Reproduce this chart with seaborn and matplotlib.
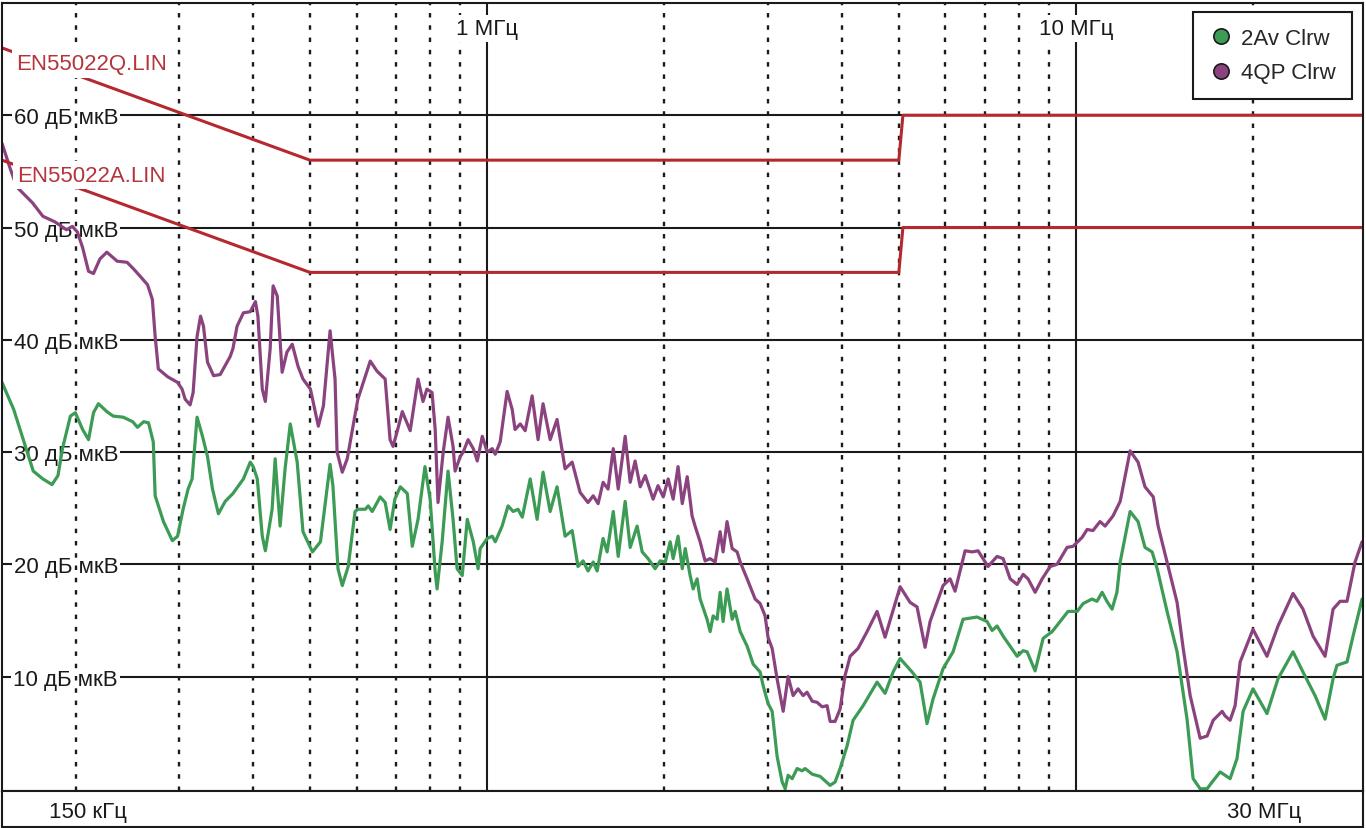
import matplotlib
matplotlib.use("Agg")
import matplotlib.pyplot as plt
import matplotlib.transforms as mtransforms
from matplotlib.lines import Line2D
import numpy as np
import pandas as pd
import seaborn as sns

# ---------------- data ----------------
qp_freq = [0.150, 0.155, 0.159, 0.169, 0.176, 0.1845, 0.193, 0.1975, 0.2014, 0.2056,
           0.2104, 0.2145, 0.220, 0.226, 0.2353, 0.2446, 0.251, 0.258, 0.265, 0.270,
           0.273, 0.2764, 0.2867, 0.298, 0.3033, 0.307, 0.313, 0.3167, 0.3216, 0.326,
           0.3298, 0.335, 0.343, 0.352, 0.366, 0.370, 0.376, 0.3855, 0.396, 0.404,
           0.408, 0.415, 0.420, 0.428, 0.433, 0.440, 0.4485, 0.457, 0.4666, 0.4775,
           0.4866, 0.501, 0.5167, 0.527, 0.541, 0.5516, 0.556, 0.5674, 0.5785, 0.603,
           0.633, 0.650, 0.671, 0.684, 0.692, 0.703, 0.7175, 0.740, 0.763, 0.778,
           0.790, 0.806, 0.816, 0.825, 0.842, 0.858, 0.875, 0.882, 0.900, 0.9105,
           0.928, 0.947, 0.962, 0.981, 1.000, 1.020, 1.032, 1.052, 1.081, 1.1025,
           1.115, 1.138, 1.160, 1.192, 1.220, 1.244, 1.279, 1.314, 1.356, 1.394,
           1.438, 1.483, 1.5135, 1.543, 1.573, 1.604, 1.637, 1.669, 1.715, 1.749,
           1.783, 1.819, 1.855, 1.913, 1.950, 1.990, 2.029, 2.069, 2.109, 2.144,
           2.186, 2.228, 2.254, 2.299, 2.344, 2.391, 2.438, 2.486, 2.515, 2.554,
           2.606, 2.657, 2.689, 2.763, 2.851, 2.907, 2.964, 2.998, 3.047, 3.106,
           3.144, 3.181, 3.243, 3.307, 3.372, 3.439, 3.492, 3.563, 3.632, 3.705,
           3.777, 3.822, 3.897, 3.974, 4.052, 4.133, 4.263, 4.416, 4.592, 4.738,
           5.025, 5.225, 5.369, 5.540, 5.650, 5.944, 6.109, 6.229, 6.478, 6.659,
           6.815, 7.086, 7.341, 7.517, 7.727, 7.940, 8.129, 8.287, 8.519, 8.756,
           9.035, 9.283, 9.652, 9.882, 10.24, 10.44, 10.68, 10.98, 11.20, 11.55,
           11.88, 12.35, 12.74, 13.09, 13.52, 13.78, 14.27, 14.84, 15.20, 15.62,
           16.24, 16.69, 17.09, 17.70, 17.90, 18.26, 18.62, 18.99, 19.97, 21.09,
           22.02, 23.35, 24.28, 25.25, 26.47, 27.31, 28.07, 28.84, 29.76, 30.59]
qp_level = [57.5, 55.2, 53.6, 52.2, 51.0, 50.5, 49.8, 50.1, 49.6, 48.2,
            46.1, 45.9, 47.2, 47.8, 47.0, 46.9, 46.3, 45.6, 44.9, 43.6,
            40.3, 37.4, 36.7, 36.2, 35.6, 34.7, 34.2, 35.3, 40.3, 42.1,
            41.2, 38.0, 36.8, 36.9, 38.5, 39.2, 41.2, 42.4, 42.5, 43.4,
            42.1, 35.6, 34.5, 39.2, 44.8, 43.9, 37.1, 38.9, 39.6, 37.6,
            36.5, 35.6, 32.3, 34.1, 40.8, 36.5, 30.0, 28.2, 29.4, 34.7,
            38.1, 37.2, 36.5, 31.1, 30.5, 31.8, 33.6, 31.9, 36.5, 34.5,
            35.6, 35.3, 32.0, 25.5, 30.0, 33.1, 30.5, 28.3, 29.6, 30.0,
            31.1, 30.3, 29.2, 31.4, 30.0, 30.3, 29.8, 30.9, 35.4, 33.8,
            32.0, 32.5, 31.9, 35.0, 31.1, 34.3, 31.1, 32.9, 28.5, 29.1,
            26.4, 25.5, 26.1, 25.4, 27.3, 26.7, 30.3, 26.7, 31.4, 27.3,
            29.2, 26.9, 27.9, 25.8, 27.0, 26.0, 27.6, 25.8, 28.7, 25.4,
            27.8, 24.3, 23.4, 22.0, 20.3, 20.5, 20.2, 22.9, 21.1, 23.8,
            21.4, 21.1, 20.2, 18.7, 16.9, 16.5, 15.4, 13.5, 12.5, 9.8,
            8.3, 6.9, 10.0, 8.3, 8.9, 8.3, 8.6, 7.8, 7.7, 7.3,
            7.4, 6.0, 6.0, 7.1, 10.1, 11.8, 12.5, 14.0, 15.8, 13.5,
            18.0, 16.6, 16.2, 12.6, 14.9, 18.1, 18.7, 17.6, 21.2, 21.1,
            21.2, 19.8, 20.7, 20.5, 18.7, 18.2, 19.1, 18.7, 17.5, 18.7,
            19.8, 20.0, 21.5, 21.6, 22.4, 23.1, 23.0, 23.8, 23.4, 24.3,
            25.6, 30.1, 29.1, 26.9, 26.0, 23.4, 20.2, 16.6, 12.5, 8.3,
            4.5, 4.7, 6.1, 6.9, 6.5, 6.1, 7.4, 11.3, 14.2, 11.8,
            14.5, 17.4, 16.0, 13.6, 11.8, 16.0, 16.7, 16.7, 20.2, 22.0]

av_freq = [0.150, 0.157, 0.163, 0.1695, 0.176, 0.1824, 0.1867, 0.190, 0.196, 0.1998,
           0.2056, 0.2104, 0.2145, 0.2187, 0.226, 0.2317, 0.241, 0.250, 0.2548, 0.261,
           0.266, 0.271, 0.273, 0.282, 0.292, 0.298, 0.3045, 0.3105, 0.3154, 0.3216,
           0.3285, 0.335, 0.3416, 0.3496, 0.359, 0.370, 0.3855, 0.396, 0.4006, 0.407,
           0.415, 0.420, 0.4313, 0.4364, 0.445, 0.4537, 0.463, 0.4757, 0.4866, 0.505,
           0.521, 0.541, 0.547, 0.558, 0.5674, 0.5807, 0.5965, 0.603, 0.621, 0.628,
           0.638, 0.658, 0.671, 0.684, 0.697, 0.712, 0.7316, 0.746, 0.763, 0.784,
           0.800, 0.816, 0.822, 0.8385, 0.858, 0.875, 0.889, 0.907, 0.925, 0.947,
           0.965, 0.973, 1.000, 1.020, 1.032, 1.060, 1.085, 1.107, 1.128, 1.147,
           1.183, 1.2155, 1.244, 1.279, 1.314, 1.356, 1.394, 1.426, 1.455, 1.483,
           1.5135, 1.537, 1.573, 1.598, 1.637, 1.669, 1.715, 1.749, 1.797, 1.833,
           1.876, 1.928, 1.967, 2.006, 2.045, 2.069, 2.109, 2.144, 2.169, 2.211,
           2.237, 2.272, 2.299, 2.362, 2.391, 2.419, 2.457, 2.486, 2.515, 2.554,
           2.606, 2.637, 2.689, 2.763, 2.829, 2.907, 2.941, 2.998, 3.047, 3.106,
           3.169, 3.206, 3.243, 3.295, 3.359, 3.426, 3.466, 3.563, 3.676, 3.822,
           3.897, 3.974, 4.083, 4.181, 4.348, 4.592, 4.738, 4.889, 5.025, 5.266,
           5.433, 5.582, 5.716, 5.944, 6.181, 6.427, 6.789, 7.059, 7.200, 7.341,
           7.517, 7.940, 8.129, 8.256, 8.519, 8.790, 9.106, 9.394, 9.689, 10.04,
           10.28, 10.64, 10.85, 11.07, 11.28, 11.51, 11.73, 11.88, 12.35, 12.74,
           13.09, 13.46, 13.73, 14.27, 14.84, 15.43, 15.80, 16.24, 16.69, 17.02,
           17.56, 18.26, 18.76, 19.21, 19.97, 21.09, 22.02, 23.35, 24.28, 25.45,
           26.47, 27.31, 27.73, 28.84, 29.53, 30.59]
av_level = [36.2, 33.8, 31.1, 28.3, 27.6, 27.1, 27.9, 30.3, 33.2, 33.5,
            32.0, 31.1, 33.5, 34.3, 33.6, 33.2, 33.1, 32.7, 32.2, 32.7,
            32.6, 30.9, 26.1, 23.8, 22.1, 22.5, 24.9, 26.7, 27.6, 33.1,
            31.4, 29.6, 26.7, 24.5, 25.6, 26.3, 27.6, 29.1, 28.7, 27.6,
            22.5, 21.2, 24.9, 29.4, 23.4, 28.5, 32.5, 29.1, 22.9, 21.1,
            22.0, 28.9, 27.0, 19.6, 18.1, 19.8, 24.7, 24.9, 24.9, 25.2,
            24.7, 26.0, 25.5, 23.1, 25.8, 26.9, 26.3, 21.6, 24.0, 28.7,
            25.8, 19.3, 17.8, 22.0, 28.3, 24.0, 19.6, 19.0, 24.0, 22.0,
            19.6, 21.4, 22.3, 22.5, 22.0, 23.4, 25.2, 24.7, 24.9, 24.2,
            27.6, 24.0, 28.2, 24.7, 26.9, 22.5, 23.0, 19.8, 20.3, 19.4,
            20.2, 19.4, 22.3, 21.1, 24.7, 20.7, 25.6, 21.5, 23.4, 21.1,
            20.5, 19.6, 20.3, 20.2, 22.0, 20.5, 22.5, 19.6, 21.4, 19.0,
            17.8, 18.7, 16.9, 15.1, 14.0, 15.4, 15.1, 17.5, 14.9, 17.8,
            15.1, 15.8, 14.0, 12.7, 11.1, 10.4, 9.2, 7.6, 6.9, 2.9,
            0.6, 0.0, 1.2, 0.9, 1.8, 1.6, 1.8, 1.3, 1.1, 0.3,
            0.6, 1.8, 3.8, 6.1, 7.4, 9.5, 8.5, 10.4, 11.6, 10.4,
            9.5, 5.8, 8.0, 10.7, 12.2, 15.1, 15.3, 14.9, 14.1, 14.5,
            13.6, 11.8, 12.3, 12.2, 10.5, 13.4, 14.0, 14.9, 15.8, 15.8,
            16.5, 16.9, 16.7, 17.5, 16.7, 16.0, 17.5, 20.2, 24.7, 23.8,
            21.5, 21.1, 19.6, 15.8, 12.2, 6.2, 0.9, 0.0, 0.0, 0.6,
            1.5, 0.9, 2.7, 6.9, 8.9, 6.7, 9.8, 12.2, 10.4, 8.3,
            6.2, 9.8, 11.0, 11.3, 13.6, 16.9]

limit_q_freq = [0.15, 0.5, 5.0, 5.08, 30.7]
limit_q_level = [66, 56, 56, 60, 60]
limit_a_freq = [0.15, 0.5, 5.0, 5.08, 30.7]
limit_a_level = [56, 46, 46, 50, 50]

grid_levels = [10, 20, 30, 40, 50, 60]
y_labels = ["10 дБ мкВ", "20 дБ мкВ", "30 дБ мкВ", "40 дБ мкВ", "50 дБ мкВ", "60 дБ мкВ"]
decade_freqs = [1, 10]
decade_labels = ["1 МГц", "10 МГц"]
minor_freqs = [0.2, 0.3, 0.4, 0.5, 0.6, 0.7, 0.8, 0.9,
               2, 3, 4, 5, 6, 7, 8, 9, 20]
trace_names = ["2Av Clrw", "4QP Clrw"]
limit_names = ["EN55022Q.LIN", "EN55022A.LIN"]
start_label = "150 кГц"
stop_label = "30 МГц"

# ---------------- style ----------------
sns.set_style("white")
plt.rcParams['font.family'] = ['Liberation Sans', 'DejaVu Sans']

GREEN = "#3c9b54"
PURPLE = "#8a437f"
RED = "#b5282f"
RED_TXT = "#b4353c"
INK = "#1a1a1a"
FS = 16

W, H = 1366, 829
fig = plt.figure(figsize=(W / 100, H / 100), dpi=100)
ax = fig.add_axes([2 / W, (H - 792) / H, 1361 / W, 788 / H])
strip = fig.add_axes([2 / W, (H - 828) / H, 1361 / W, 36 / H])

ax.set_xscale('log')
ax.set_xlim(0.15, 30.7)
ax.set_ylim(-0.2, 70)

# grid
for lv in grid_levels:
    ax.axhline(lv, color=INK, lw=1.5, zorder=1)
for f in decade_freqs:
    ax.axvline(f, color=INK, lw=1.5, zorder=1)
for f in minor_freqs:
    ax.axvline(f, color=INK, lw=1.7, ls=(0, (1.9, 3.3)), zorder=2.5)

# traces
traces = pd.concat([
    pd.DataFrame({"freq": av_freq, "level": av_level, "trace": trace_names[0]}),
    pd.DataFrame({"freq": qp_freq, "level": qp_level, "trace": trace_names[1]}),
], ignore_index=True)
sns.lineplot(data=traces, x="freq", y="level", hue="trace",
             palette={trace_names[0]: GREEN, trace_names[1]: PURPLE},
             estimator=None, sort=False, linewidth=2.3, legend=False,
             ax=ax, zorder=3)

limits = pd.concat([
    pd.DataFrame({"freq": limit_q_freq, "level": limit_q_level, "limit": limit_names[0]}),
    pd.DataFrame({"freq": limit_a_freq, "level": limit_a_level, "limit": limit_names[1]}),
], ignore_index=True)
sns.lineplot(data=limits, x="freq", y="level", hue="limit",
             palette={limit_names[0]: RED, limit_names[1]: RED},
             estimator=None, sort=False, linewidth=2.2, legend=False,
             ax=ax, zorder=3.5)

ax.set_xlabel("")
ax.set_ylabel("")
ax.tick_params(which='both', length=0, labelbottom=False, labelleft=False)
for s in ax.spines.values():
    s.set_linewidth(1.5)
    s.set_color(INK)
    s.set_zorder(10)

# y level labels
ty = mtransforms.blended_transform_factory(ax.transAxes, ax.transData)
for lv, lab in zip(grid_levels, y_labels):
    ax.text((118 - 2) / 1361, lv, lab, transform=ty, ha='right', va='center_baseline',
            fontsize=FS, color=INK, zorder=2,
            bbox=dict(facecolor='white', edgecolor='none', pad=1.5))

# decade labels at top
tx = mtransforms.blended_transform_factory(ax.transData, ax.transAxes)
for f, lab in zip(decade_freqs, decade_labels):
    ax.text(f, 1 - (27 - 4) / 788, lab, transform=tx, ha='center', va='center_baseline',
            fontsize=FS, color=INK, zorder=6,
            bbox=dict(facecolor='white', edgecolor='none', pad=2))

# limit line labels
ax.text((16 - 2) / 1361, 1 - (62 - 4) / 788, limit_names[0], transform=ax.transAxes,
        ha='left', va='center_baseline', fontsize=FS, color=RED_TXT, zorder=6,
        bbox=dict(facecolor='white', edgecolor='none', pad=2.6))
ax.text((17 - 2) / 1361, 1 - (173.5 - 4) / 788, limit_names[1], transform=ax.transAxes,
        ha='left', va='center_baseline', fontsize=FS, color=RED_TXT, zorder=6,
        bbox=dict(facecolor='white', edgecolor='none', pad=2.6))

# legend
handles = [Line2D([], [], marker='o', ls='none', markersize=11,
                  markerfacecolor=c, markeredgecolor=INK, markeredgewidth=1.2)
           for c in (GREEN, PURPLE)]
leg = ax.legend(handles, trace_names, loc='upper right',
                bbox_to_anchor=((1352 - 2) / 1361, 1 - (13 - 4) / 788),
                borderaxespad=0, frameon=True, fancybox=False, framealpha=1,
                edgecolor=INK, fontsize=FS, handletextpad=0.35, labelspacing=0.6,
                borderpad=0.72, handlelength=1.1)
leg.get_frame().set_linewidth(1.5)
leg.set_zorder(12)

# bottom strip with start / stop labels
strip.set_xlim(0, 1)
strip.set_ylim(0, 1)
strip.set_xticks([])
strip.set_yticks([])
for s in strip.spines.values():
    s.set_linewidth(1.5)
    s.set_color(INK)
strip.text((88 - 2) / 1361, 0.5, start_label, ha='center', va='center_baseline',
           fontsize=FS, color=INK)
strip.text((1264 - 2) / 1361, 0.5, stop_label, ha='center', va='center_baseline',
           fontsize=FS, color=INK)

fig.savefig("out.png", dpi=100)
